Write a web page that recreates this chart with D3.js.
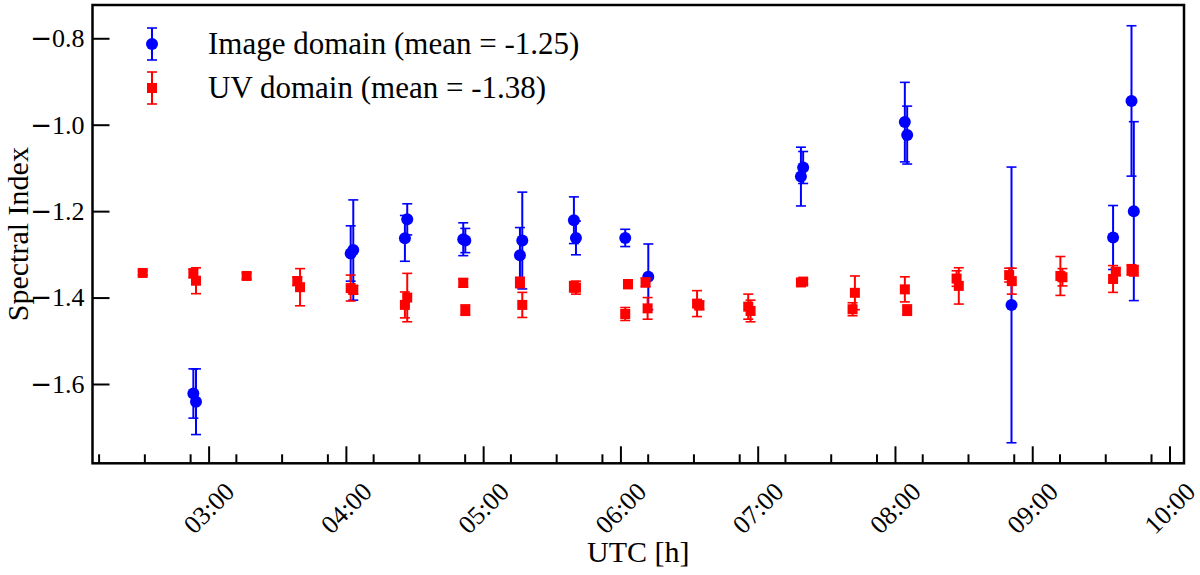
<!DOCTYPE html>
<html>
<head>
<meta charset="utf-8">
<script src="https://cdn.jsdelivr.net/npm/d3@7"></script>
<style>
	body { margin: 0; background: #fff; }
	svg { display: block; font-family: "Liberation Serif", "Times New Roman", serif; }
</style>
</head>
<body>
<svg id="chart" width="1200" height="575"></svg>
<script>
// Image domain spectral index (blue circles)
const imageTimes = ['02:53:20', '02:54:29', '04:02:06', '04:03:14', '04:25:48', '04:26:49', '04:51:18', '04:52:12',
	'05:16:05', '05:17:06', '05:39:40', '05:40:34', '06:02:06', '06:12:11', '07:18:54', '07:19:52',
	'08:04:19', '08:05:20', '08:50:56', '09:35:20', '09:43:23', '09:44:24'];
const imageValues = [-1.622, -1.641, -1.298, -1.290, -1.263, -1.219, -1.265, -1.268,
	-1.302, -1.268, -1.221, -1.262, -1.262, -1.352, -1.120, -1.099,
	-0.994, -1.024, -1.417, -1.261, -0.945, -1.200];
const imageErrors = [0.057, 0.076, 0.064, 0.116, 0.053, 0.036, 0.038, 0.028,
	0.064, 0.112, 0.054, 0.039, 0.020, 0.076, 0.068, 0.037,
	0.092, 0.067, 0.319, 0.074, 0.174, 0.207];

// UV domain spectral index (red squares)
const uvTimes = ['02:31:12', '02:53:20', '02:54:29', '03:16:37', '03:38:46', '03:39:58', '04:02:06', '04:03:14',
	'04:25:48', '04:26:49', '04:51:18', '04:52:12', '05:16:05', '05:17:06', '05:39:40', '05:40:34',
	'06:02:06', '06:03:18', '06:10:59', '06:11:53', '06:33:30', '06:34:30', '06:55:52', '06:56:53',
	'07:18:54', '07:19:52', '07:41:28', '07:42:29', '08:04:19', '08:05:20', '08:26:56', '08:27:54',
	'08:49:55', '08:51:04', '09:12:18', '09:13:12', '09:35:20', '09:36:32', '09:43:23', '09:44:24'];
const uvValues = [-1.343, -1.344, -1.361, -1.350, -1.362, -1.376, -1.378, -1.382,
	-1.417, -1.400, -1.366, -1.429, -1.365, -1.417, -1.375, -1.377,
	-1.438, -1.369, -1.365, -1.425, -1.414, -1.418, -1.421, -1.431,
	-1.365, -1.363, -1.427, -1.389, -1.381, -1.429, -1.356, -1.373,
	-1.348, -1.362, -1.350, -1.353, -1.357, -1.340, -1.336, -1.338];
const uvErrors = [0.005, 0.010, 0.030, 0.007, 0.010, 0.043, 0.030, 0.010,
	0.030, 0.056, 0.010, 0.012, 0.012, 0.029, 0.012, 0.015,
	0.015, 0.010, 0.010, 0.025, 0.030, 0.010, 0.029, 0.025,
	0.008, 0.006, 0.015, 0.039, 0.029, 0.012, 0.018, 0.042,
	0.016, 0.030, 0.045, 0.020, 0.031, 0.008, 0.012, 0.012];

const legendLabels = ['Image domain (mean = -1.25)', 'UV domain (mean = -1.38)'];
const xDomain = ['02:09:15', '10:06:20'];
const yDomain = [-1.7835, -0.723];
const xMajorTicks = ['03:00', '04:00', '05:00', '06:00', '07:00', '08:00', '09:00', '10:00'];
const yTicks = [-1.6, -1.4, -1.2, -1.0, -0.8];

const parseTime = d3.utcParse('%H:%M:%S');
const parseHour = d3.utcParse('%H:%M');
const serif = '"Liberation Serif", "Times New Roman", serif';

const svg = d3.select('#chart');
const margin = {left: 92.5, top: 5, right: 1184, bottom: 463.3};

const x = d3.scaleUtc()
	.domain(xDomain.map(parseTime))
	.range([margin.left, margin.right]);
const y = d3.scaleLinear()
	.domain(yDomain)
	.range([margin.bottom, margin.top]);

// minor ticks every 20 minutes, offset from the hours like in the original
const minorTicks = d3.utcMinute.range(parseTime('02:12:00'), parseTime('10:00:00'), 20)
	.map(d => new Date(d.getTime() + 8000));

const blue = '#0000ff';
const red = '#ff0000';

const imageData = imageTimes.map((t, i) => ({t: parseTime(t), v: imageValues[i], e: imageErrors[i]}));
const uvData = uvTimes.map((t, i) => ({t: parseTime(t), v: uvValues[i], e: uvErrors[i]}));

// error bars with caps
function drawErrorBars(g, data, color) {
	const bars = g.selectAll('g.bar').data(data).enter().append('g').attr('class', 'bar')
		.attr('stroke', color).attr('fill', 'none');
	bars.append('line')
		.attr('x1', d => x(d.t)).attr('x2', d => x(d.t))
		.attr('y1', d => y(d.v + d.e)).attr('y2', d => y(d.v - d.e))
		.attr('stroke-width', 2);
	bars.append('line')
		.attr('x1', d => x(d.t) - 5).attr('x2', d => x(d.t) + 5)
		.attr('y1', d => y(d.v + d.e)).attr('y2', d => y(d.v + d.e))
		.attr('stroke-width', 1.6);
	bars.append('line')
		.attr('x1', d => x(d.t) - 5).attr('x2', d => x(d.t) + 5)
		.attr('y1', d => y(d.v - d.e)).attr('y2', d => y(d.v - d.e))
		.attr('stroke-width', 1.6);
}

const plot = svg.append('g');

const gImage = plot.append('g');
drawErrorBars(gImage, imageData, blue);
gImage.selectAll('circle').data(imageData).enter().append('circle')
	.attr('cx', d => x(d.t)).attr('cy', d => y(d.v)).attr('r', 6)
	.attr('fill', blue);

const gUv = plot.append('g');
drawErrorBars(gUv, uvData, red);
gUv.selectAll('rect').data(uvData).enter().append('rect')
	.attr('x', d => x(d.t) - 5).attr('y', d => y(d.v) - 5)
	.attr('width', 10).attr('height', 10)
	.attr('fill', red);

// axes
const xAxis = d3.axisBottom(x)
	.tickValues(xMajorTicks.map(parseHour))
	.tickFormat(d3.utcFormat('%H:%M'))
	.tickSize(-17).tickSizeOuter(0);
const gx = svg.append('g').attr('transform', `translate(0,${margin.bottom})`).call(xAxis)
	.attr('font-family', serif);
gx.select('.domain').remove();
gx.selectAll('.tick line').attr('stroke', '#000').attr('stroke-width', 2);
gx.selectAll('.tick text')
	.attr('font-size', 26)
	.attr('fill', '#000')
	.attr('y', 0).attr('dy', 0)
	.attr('text-anchor', 'middle')
	.attr('dominant-baseline', 'central')
	.attr('transform', 'translate(0,45) rotate(-45)');

svg.append('g').attr('transform', `translate(0,${margin.bottom})`)
	.selectAll('line').data(minorTicks).enter().append('line')
	.attr('x1', d => x(d)).attr('x2', d => x(d))
	.attr('y1', 0).attr('y2', -9)
	.attr('stroke', '#000').attr('stroke-width', 2);

const yAxis = d3.axisLeft(y)
	.tickValues(yTicks)
	.tickFormat(d3.format('.1f'))
	.tickSize(-17).tickSizeOuter(0);
const gy = svg.append('g').attr('transform', `translate(${margin.left},0)`).call(yAxis)
	.attr('font-family', serif);
gy.select('.domain').remove();
gy.selectAll('.tick line').attr('stroke', '#000').attr('stroke-width', 2);
// wide minus sign like in the original labels
gy.selectAll('.tick text')
	.attr('font-size', 26).attr('fill', '#000').attr('x', -8)
	.each(function(d) {
		const t = d3.select(this);
		const s = t.text();
		t.text(null);
		t.append('tspan').attr('font-family', '"DejaVu Sans"').text(s.charAt(0));
		t.append('tspan').text(s.slice(1));
	});

// frame
svg.append('rect')
	.attr('x', margin.left).attr('y', margin.top)
	.attr('width', margin.right - margin.left).attr('height', margin.bottom - margin.top)
	.attr('fill', 'none').attr('stroke', '#000').attr('stroke-width', 2.5);

// axis titles
svg.append('text')
	.attr('x', (margin.left + margin.right) / 2).attr('y', 562)
	.attr('text-anchor', 'middle').attr('font-size', 30)
	.text('UTC [h]');
svg.append('text')
	.attr('transform', `translate(28,${(margin.top + margin.bottom) / 2}) rotate(-90)`)
	.attr('text-anchor', 'middle').attr('font-size', 30)
	.text('Spectral Index');

// legend
const legend = svg.append('g');
const legendItems = [
	{label: legendLabels[0], color: blue, shape: 'circle', cy: 44},
	{label: legendLabels[1], color: red, shape: 'square', cy: 88}
];
legendItems.forEach(item => {
	const g = legend.append('g').attr('stroke', item.color);
	g.append('line').attr('x1', 152).attr('x2', 152).attr('y1', item.cy - 16).attr('y2', item.cy + 16).attr('stroke-width', 2);
	g.append('line').attr('x1', 147).attr('x2', 157).attr('y1', item.cy - 16).attr('y2', item.cy - 16).attr('stroke-width', 1.6);
	g.append('line').attr('x1', 147).attr('x2', 157).attr('y1', item.cy + 16).attr('y2', item.cy + 16).attr('stroke-width', 1.6);
	if (item.shape === 'circle') {
		legend.append('circle').attr('cx', 152).attr('cy', item.cy).attr('r', 6).attr('fill', item.color);
	} else {
		legend.append('rect').attr('x', 147).attr('y', item.cy - 5).attr('width', 10).attr('height', 10).attr('fill', item.color);
	}
	legend.append('text')
		.attr('x', 208).attr('y', item.cy + 10)
		.attr('font-size', 31)
		.text(item.label);
});
</script>
</body>
</html>
